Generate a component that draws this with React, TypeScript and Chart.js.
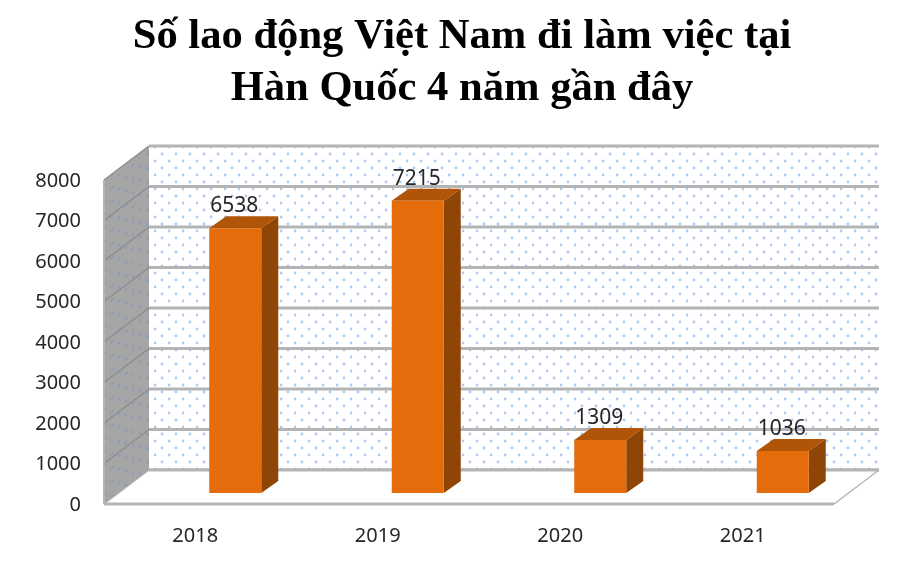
import { useEffect, useRef } from "react";
import { Chart, registerables } from "chart.js";

Chart.register(...registerables);

const titleLines = ["Số lao động Việt Nam đi làm việc tại", "Hàn Quốc 4 năm gần đây"];
const years = ["2018", "2019", "2020", "2021"];
const workers = [6538, 7215, 1309, 1036];
const yTicks = [0, 1000, 2000, 3000, 4000, 5000, 6000, 7000, 8000];

// fake 3D offsets, relative to the plane the bars stand on
const WALL_BACK = { dx: 5, dy: -23 };
const WALL_FRONT = { dx: -40, dy: 11 };
const BAR_DEPTH = { dx: 17, dy: -12 };

const makeDots = (bg: string, dot: string) => {
  const c = document.createElement("canvas");
  c.width = 14;
  c.height = 14;
  const g = c.getContext("2d")!;
  g.fillStyle = bg;
  g.fillRect(0, 0, 14, 14);
  g.fillStyle = dot;
  [[1, 7], [8, 0], [8, 14]].forEach(([x, y]) => {
    g.beginPath();
    g.arc(x, y, 1.4, 0, Math.PI * 2);
    g.fill();
  });
  return c;
};

const poly = (ctx: CanvasRenderingContext2D, pts: number[][]) => {
  ctx.beginPath();
  pts.forEach((p, i) => (i ? ctx.lineTo(p[0], p[1]) : ctx.moveTo(p[0], p[1])));
  ctx.closePath();
};

// back wall, side wall, floor and the bars' side and top faces
const box3d = {
  id: "box3d",
  afterLayout(chart: any) {
    // title sits a little right of the canvas centre
    chart.titleBlock.left = 50;
  },
  beforeDatasetsDraw(chart: any) {
    const { ctx, chartArea, scales } = chart;
    const y = scales.y;
    const backL = chartArea.left + WALL_BACK.dx;
    const backR = chartArea.right + WALL_BACK.dx;
    const frontL = chartArea.left + WALL_FRONT.dx;
    const frontR = chartArea.right + WALL_FRONT.dx;
    const yBack = (v: number) => y.getPixelForValue(v) + WALL_BACK.dy;
    const yFront = (v: number) => y.getPixelForValue(v) + WALL_FRONT.dy;
    const top = yTicks[yTicks.length - 1];
    const gridColor = "#b4b4b4";

    ctx.save();
    ctx.fillStyle = ctx.createPattern(makeDots("#ffffff", "#abc9ee"), "repeat");
    ctx.fillRect(backL, yBack(top), backR - backL, yBack(0) - yBack(top));

    ctx.save();
    poly(ctx, [
      [frontL, yFront(top)],
      [backL, yBack(top)],
      [backL, yBack(0)],
      [frontL, yFront(0)],
    ]);
    ctx.clip();
    ctx.transform(1, (yBack(top) - yFront(top)) / (backL - frontL), 0, 1, frontL, yFront(top));
    ctx.fillStyle = ctx.createPattern(makeDots("#a6a6a6", "#8a9cb4"), "repeat");
    ctx.fillRect(0, 0, backL - frontL, yFront(0) - yFront(top) + 40);
    ctx.restore();

    ctx.strokeStyle = gridColor;
    ctx.lineWidth = 3;
    yTicks.forEach((v) => {
      ctx.beginPath();
      ctx.moveTo(backR, yBack(v));
      ctx.lineTo(backL, yBack(v));
      ctx.stroke();
    });
    ctx.strokeStyle = "#8c8c8c";
    ctx.lineWidth = 1.5;
    yTicks.forEach((v) => {
      ctx.beginPath();
      ctx.moveTo(backL, yBack(v));
      ctx.lineTo(frontL, yFront(v));
      ctx.stroke();
    });
    ctx.beginPath();
    ctx.moveTo(frontL, yFront(0));
    ctx.lineTo(frontL, yFront(top));
    ctx.strokeStyle = gridColor;
    ctx.lineWidth = 2;
    ctx.stroke();

    // floor
    poly(ctx, [
      [frontL, yFront(0)],
      [backL, yBack(0)],
      [backR, yBack(0)],
      [frontR, yFront(0)],
    ]);
    ctx.fillStyle = "#ffffff";
    ctx.fill();
    ctx.strokeStyle = gridColor;
    ctx.lineWidth = 3;
    ctx.beginPath();
    ctx.moveTo(backL, yBack(0));
    ctx.lineTo(backR, yBack(0));
    ctx.moveTo(frontL, yFront(0));
    ctx.lineTo(frontR, yFront(0));
    ctx.stroke();
    ctx.lineWidth = 1.5;
    ctx.beginPath();
    ctx.moveTo(frontL, yFront(0));
    ctx.lineTo(backL, yBack(0));
    ctx.moveTo(frontR, yFront(0));
    ctx.lineTo(backR, yBack(0));
    ctx.stroke();

    chart.getDatasetMeta(0).data.forEach((bar: any) => {
      const l = bar.x - bar.width / 2;
      const r = bar.x + bar.width / 2;
      const { dx, dy } = BAR_DEPTH;
      poly(ctx, [
        [r, bar.y],
        [r + dx, bar.y + dy],
        [r + dx, bar.base + dy],
        [r, bar.base],
      ]);
      ctx.fillStyle = "#8f4506";
      ctx.fill();
      poly(ctx, [
        [l, bar.y],
        [l + dx, bar.y + dy],
        [r + dx, bar.y + dy],
        [r, bar.y],
      ]);
      ctx.fillStyle = "#b05408";
      ctx.fill();
    });
    ctx.restore();
  },
  afterDatasetsDraw(chart: any) {
    const { ctx } = chart;
    ctx.save();
    ctx.font = "21px 'Noto Sans'";
    ctx.fillStyle = "#262626";
    ctx.textAlign = "center";
    ctx.textBaseline = "middle";
    chart.getDatasetMeta(0).data.forEach((bar: any, i: number) => {
      ctx.fillText(String(workers[i]), bar.x - 1, bar.y - 22);
    });
    ctx.restore();
  },
};

export default function App() {
  const canvasRef = useRef<HTMLCanvasElement>(null);

  useEffect(() => {
    const chart = new Chart(canvasRef.current!, {
      type: "bar",
      data: {
        labels: years,
        datasets: [
          {
            data: workers,
            backgroundColor: "#e46c0a",
            categoryPercentage: 0.285,
            barPercentage: 1,
          },
        ],
      },
      options: {
        responsive: false,
        animation: false,
        layout: { padding: { left: 0, right: 26, top: 0, bottom: 0 } },
        plugins: {
          legend: { display: false },
          tooltip: { enabled: false },
          title: {
            display: true,
            text: titleLines,
            color: "#000000",
            font: { family: "'Liberation Serif'", size: 42.6, weight: "bold", lineHeight: 52 / 42.6 },
            padding: { top: 11, bottom: 54 },
          },
        },
        scales: {
          x: {
            border: { display: false },
            grid: { display: false },
            afterFit: (s: any) => {
              s.height = 70;
            },
            ticks: {
              color: "#262626",
              font: { family: "'Noto Sans'", size: 20 },
              labelOffset: -40,
              padding: 23,
              maxRotation: 0,
            },
          },
          y: {
            min: 0,
            max: 8000,
            border: { display: false },
            grid: { display: false },
            afterFit: (s: any) => {
              s.width = 144;
            },
            ticks: {
              stepSize: 1000,
              color: "#262626",
              font: { family: "'Noto Sans'", size: 20 },
              labelOffset: 12,
              padding: 55,
              callback: (v: number) => String(v),
            },
          },
        },
      },
      plugins: [box3d],
    } as any);
    return () => chart.destroy();
  }, []);

  return (
    <div style={{ position: "absolute", left: 0, top: 0, width: 900, height: 563, background: "#ffffff" }}>
      <canvas ref={canvasRef} width={900} height={563} style={{ display: "block" }} />
    </div>
  );
}
